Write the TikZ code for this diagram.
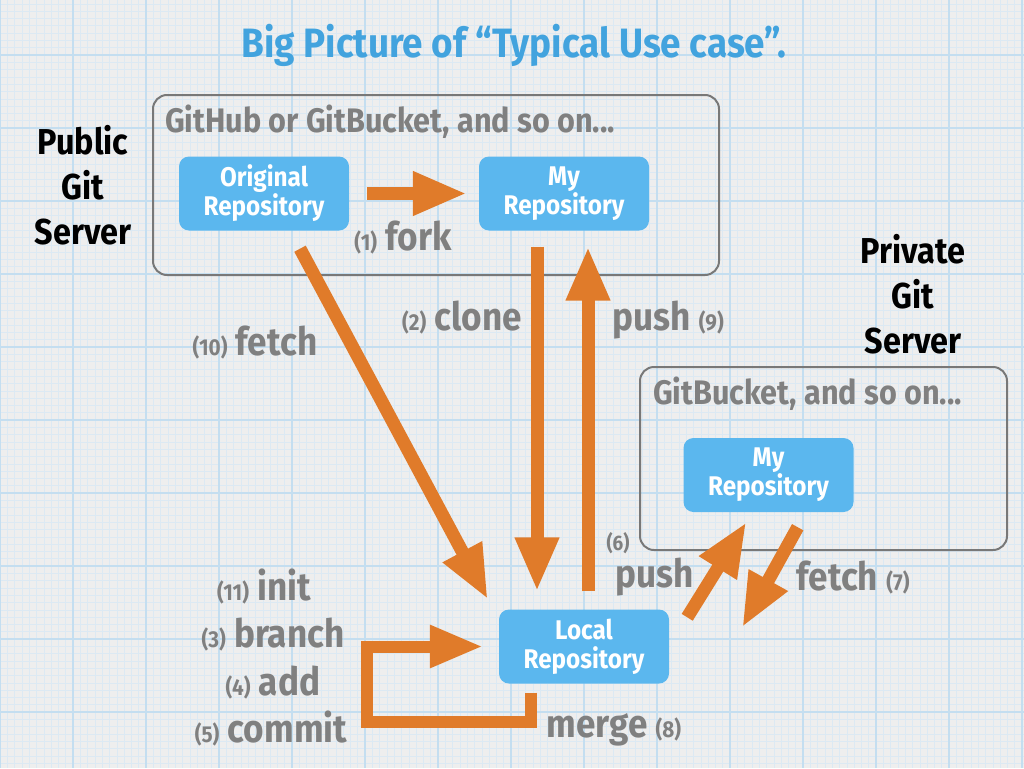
\documentclass[tikz,border=0pt]{standalone}
\usepackage{fontspec}
\setmainfont{Fira Sans}[FakeStretch=0.9]
\usetikzlibrary{arrows.meta}
\definecolor{bgc}{RGB}{238,238,238}
\definecolor{minorc}{RGB}{220,233,243}
\definecolor{majorc}{RGB}{196,222,240}
\definecolor{boxblue}{RGB}{91,183,238}
\definecolor{titleblue}{RGB}{66,163,222}
\definecolor{arrorange}{RGB}{224,123,42}
\definecolor{labgray}{RGB}{128,128,128}
\definecolor{framegray}{RGB}{120,120,120}
\newcommand\smallnum[1]{{\fontsize{23}{24}\selectfont #1}}
\tikzset{
 repo/.style={fill=boxblue, rounded corners=10pt, minimum width=170pt, minimum height=74pt, text=white, align=center, font=\bfseries\fontsize{27}{29}\selectfont, inner sep=0pt},
 frame/.style={draw=framegray, line width=2pt, rounded corners=14pt, inner sep=0pt},
 bigarrow/.style={draw=arrorange, line width=13pt, -{Triangle[length=54pt,width=41pt]}},
 looparrow/.style={draw=arrorange, line width=12pt, line join=miter, -{Triangle[length=53pt,width=40pt]}},
 lab/.style={text=labgray, font=\bfseries\fontsize{39}{42}\selectfont, anchor=base, inner sep=0pt},
 head/.style={text=labgray, font=\bfseries\fontsize{34}{38}\selectfont, anchor=base west, inner sep=0pt},
 server/.style={text=black, align=center, font=\bfseries\fontsize{36}{45}\selectfont, inner sep=0pt},
}
\begin{document}
\begin{tikzpicture}[x=1pt,y=-1pt]
\useasboundingbox (0,0) rectangle (1024,768);
% grid paper
\fill[bgc] (0,0) rectangle (1024,768);
\foreach \i in {0,...,140} {\draw[minorc, line width=0.6pt] (\i*7.3,0) -- (\i*7.3,768);}
\foreach \i in {0,...,105} {\draw[minorc, line width=0.6pt] (0,3.9+\i*7.3) -- (1024,3.9+\i*7.3);}
\foreach \i in {0,...,14} {\draw[majorc, line width=1.2pt] (\i*73,0) -- (\i*73,768);}
\foreach \i in {0,...,10} {\draw[majorc, line width=1.2pt] (0,-18+\i*73) -- (1024,-18+\i*73);}

% title
\node[text=titleblue, font=\bfseries\fontsize{41}{44}\selectfont, anchor=base, inner sep=0pt] (title) at (514,58) {Big Picture of “Typical Use case”.};

% servers
\node[server] (pubsrv) at (83,185) {Public\\Git\\Server};
\node[server] (privsrv) at (913,294) {Private\\Git\\Server};

% frames
\node[frame, minimum width=566pt, minimum height=180pt] (pubframe) at (436,185) {};
\node[frame, minimum width=367pt, minimum height=183pt] (privframe) at (823.5,458.5) {};
\node[head] (pubhead) at (165,132) {GitHub or GitBucket, and so on...};
\node[head] (privhead) at (653,404) {GitBucket, and so on...};

% repositories
\node[repo] (orig) at (264,193.5) {Original\\Repository};
\node[repo] (myrepo) at (564,193.5) {My\\Repository};
\node[repo] (local) at (584,646.5) {Local\\Repository};
\node[repo] (priv) at (768.5,475) {My\\Repository};

% arrows
\draw[bigarrow] ([shift={(18,0)}]orig.east) -- ([shift={(-12,0)}]myrepo.west);
\draw[bigarrow] ([shift={(-27,16)}]myrepo.south) -- ([shift={(-47,-18)}]local.north);
\draw[bigarrow] ([shift={(4,-18)}]local.north) -- ([shift={(24,16)}]myrepo.south);
\draw[bigarrow] ([shift={(36,18)}]orig.south) -- ([shift={(-11,-10)}]local.north west);
\draw[bigarrow] ([shift={(18,8)}]local.north east) -- ([shift={(63,10)}]priv.south west);
\draw[bigarrow] ([shift={(-56,15)}]priv.south east) -- ([shift={(73,18)}]local.north east);
\draw[looparrow] ([shift={(-53,9)}]local.south) -- ++(0,29) -| ([shift={(-132,0)}]local.west) -- ([shift={(-16,0)}]local.west);

% labels
\node[lab] (lfork) at (403,250) {\smallnum{(1)} fork};
\node[lab] (lclone) at (462,330) {\smallnum{(2)} clone};
\node[lab] (lpush9) at (668,330) {push \smallnum{(9)}};
\node[lab] (lfetch10) at (255,355) {\smallnum{(10)} fetch};
\node[text=labgray, font=\bfseries\fontsize{21}{22}\selectfont, inner sep=0pt] (lsix) at (618,543) {(6)};
\node[lab] (lpush6) at (655,587) {push};
\node[lab] (lfetch7) at (853,590) {fetch \smallnum{(7)}};
\node[lab] (linit) at (264,600) {\smallnum{(11)} init};
\node[lab] (lbranch) at (273,647) {\smallnum{(3)} branch};
\node[lab] (ladd) at (273,695) {\smallnum{(4)} add};
\node[lab] (lcommit) at (271,742) {\smallnum{(5)} commit};
\node[lab] (lmerge) at (614,737) {merge \smallnum{(8)}};
\end{tikzpicture}
\end{document}
